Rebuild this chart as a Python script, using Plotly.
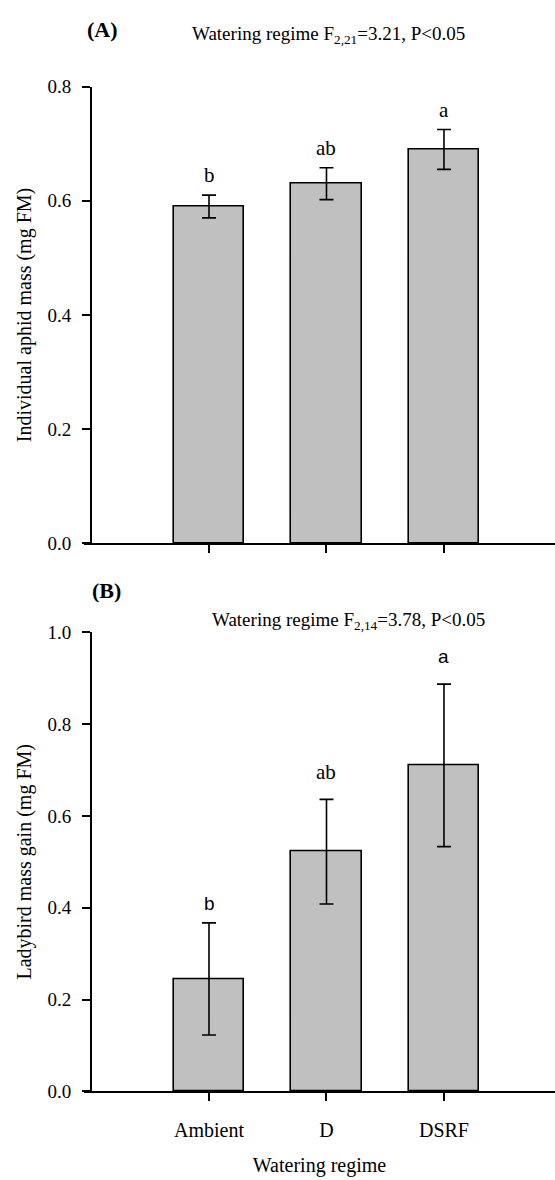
import plotly.graph_objects as go

# Watering regime treatments
categories = ["Ambient", "D", "DSRF"]

# Panel A: individual aphid mass (mg FM), mean and SE
aphid_mass = [0.590, 0.630, 0.690]
aphid_se = [0.020, 0.028, 0.035]
aphid_letters = ["b", "ab", "a"]

# Panel B: ladybird mass gain (mg FM), mean and SE
ladybird_gain = [0.245, 0.522, 0.710]
ladybird_se = [0.122, 0.114, 0.177]
ladybird_letters = ["b", "ab", "a"]

# y-axis ticks
ticks_a = [0.0, 0.2, 0.4, 0.6, 0.8]
ticks_b = [0.0, 0.2, 0.4, 0.6, 0.8, 1.0]

W, H = 555, 1180
SERIF = "Liberation Serif, Times New Roman, serif"
SANS = "Liberation Sans, Arial, sans-serif"
BAR_FILL = "#c0c0c0"
xpos = list(range(len(categories)))


def py(p):
    """Convert a pixel row (from top) to paper y."""
    return 1 - p / H


fig = go.Figure()

bar_style = dict(
    width=0.6,
    marker=dict(color=BAR_FILL, line=dict(color="black", width=1.6)),
    showlegend=False,
    hoverinfo="skip",
)

fig.add_trace(go.Bar(
    x=xpos, y=aphid_mass, xaxis="x", yaxis="y",
    error_y=dict(type="data", array=aphid_se, color="black", thickness=1.6, width=7),
    **bar_style,
))
fig.add_trace(go.Bar(
    x=xpos, y=ladybird_gain, xaxis="x2", yaxis="y2",
    error_y=dict(type="data", array=ladybird_se, color="black", thickness=1.6, width=7),
    **bar_style,
))

# x axis line starts a little left of the y axis
x_dom = [84 / W, 1.0]
xr = [-1.064, 2.945]
y_pos = 91 / W

line_common = dict(
    showline=True, linecolor="black", linewidth=1.7,
    ticks="outside", ticklen=8, tickwidth=1.5, tickcolor="black",
    showgrid=False, zeroline=False,
)
tick_font = dict(family=SERIF, size=19, color="black")
title_font = dict(family=SERIF, size=20, color="black")

fig.update_layout(
    width=W, height=H,
    margin=dict(l=0, r=0, t=0, b=0),
    paper_bgcolor="white", plot_bgcolor="white",
    bargap=0,
    xaxis=dict(domain=x_dom, range=xr, anchor="y", tickvals=xpos,
               showticklabels=False, **line_common),
    yaxis=dict(domain=[py(543), py(78)], range=[0, 0.8], anchor="free",
               position=y_pos, tickvals=ticks_a, tickformat=".1f",
               ticklabelstandoff=7, tickfont=tick_font, **line_common,
               title=dict(text="Individual aphid mass (mg FM)",
                          font=title_font, standoff=10)),
    xaxis2=dict(domain=x_dom, range=xr, anchor="y2", tickvals=xpos,
                ticktext=categories, ticklabelstandoff=12,
                tickfont=dict(family=SERIF, size=20, color="black"),
                **line_common,
                title=dict(text="Watering regime", font=title_font,
                           standoff=18)),
    yaxis2=dict(domain=[py(1101), py(633.5)], range=[0, 1.0], anchor="free",
                position=y_pos, tickvals=ticks_b, tickformat=".1f",
                ticklabelstandoff=7, tickfont=tick_font, **line_common,
                title=dict(text="Ladybird mass gain (mg FM)",
                           font=title_font, standoff=10)),
)

annotations = []

# significance letters above the error bars
gap_a = [6, 6, 5]
for i, (m, s, lab) in enumerate(zip(aphid_mass, aphid_se, aphid_letters)):
    annotations.append(dict(
        x=i, y=m + s, xref="x", yref="y", text=lab, showarrow=False,
        yanchor="bottom", yshift=gap_a[i],
        font=dict(family=SERIF, size=21, color="black"),
    ))

gap_b = [7, 13, 15]
fonts_b = [SANS, SERIF, SANS]
sizes_b = [19, 21, 19]
for i, (m, s, lab) in enumerate(zip(ladybird_gain, ladybird_se, ladybird_letters)):
    annotations.append(dict(
        x=i, y=m + s, xref="x2", yref="y2", text=lab, showarrow=False,
        yanchor="bottom", yshift=gap_b[i],
        font=dict(family=fonts_b[i], size=sizes_b[i], color="black"),
    ))

# panel labels and ANOVA results
annotations += [
    dict(x=85 / W, y=py(20), xref="paper", yref="paper", text="<b>(A)</b>",
         showarrow=False, xanchor="left", yanchor="middle",
         font=dict(family=SERIF, size=22, color="black")),
    dict(x=190 / W, y=py(25), xref="paper", yref="paper",
         text="Watering regime F<sub>2,21</sub>=3.21, P<0.05",
         showarrow=False, xanchor="left", yanchor="middle",
         font=dict(family=SERIF, size=19, color="black")),
    dict(x=90 / W, y=py(591), xref="paper", yref="paper", text="<b>(B)</b>",
         showarrow=False, xanchor="left", yanchor="middle",
         font=dict(family=SERIF, size=22, color="black")),
    dict(x=210 / W, y=py(622), xref="paper", yref="paper",
         text="Watering regime F<sub>2,14</sub>=3.78, P<0.05",
         showarrow=False, xanchor="left", yanchor="middle",
         font=dict(family=SERIF, size=19, color="black")),
]
fig.update_layout(annotations=annotations)

fig.write_html("out.html")
